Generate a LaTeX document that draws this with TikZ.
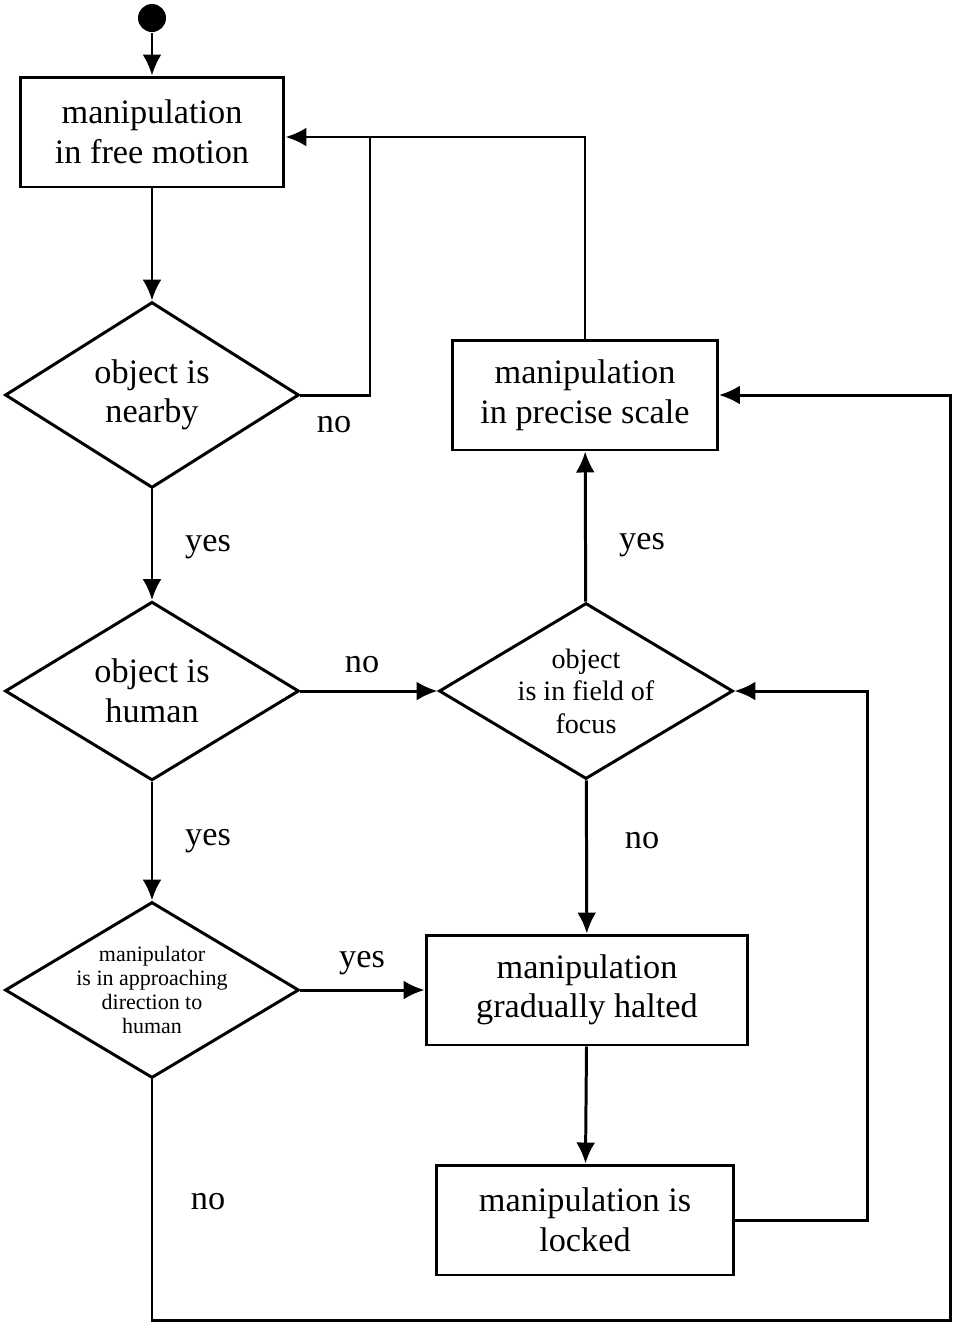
\documentclass[tikz,border=0pt]{standalone}
\usepackage{fontspec}
\setmainfont{Liberation Serif}
\usetikzlibrary{shapes.geometric,arrows.meta}

\begin{document}
\begin{tikzpicture}[x=0.02cm,y=-0.02cm,>={Latex[length=0.42cm,width=0.38cm]},line width=1.7pt,
    box/.style={draw,rectangle,align=center,minimum height=2.2cm,font=\fontsize{19.5}{22.5}\selectfont},
    test/.style={draw,diamond,align=center,inner sep=0pt,minimum width=5.88cm,minimum height=3.52cm},
    lbl/.style={font=\fontsize{19.5}{22.5}\selectfont}]
  \useasboundingbox (0,0) rectangle (956,1326);
  % states and tests
  \node[fill,circle,inner sep=0pt,minimum size=0.56cm] (start) at (152,18) {};
  \node[box,minimum width=5.28cm] (free) at (152,132) {manipulation\\in free motion};
  \node[test,font=\fontsize{19.5}{22.5}\selectfont] (near) at (152,395) {object is\\nearby};
  \node[box,minimum width=5.3cm] (precise) at (585,395) {manipulation\\in precise scale};
  \node[test,font=\fontsize{19.5}{22.5}\selectfont] (human) at (152,691) {object is\\human};
  \node[test,inner sep=-0.6cm,font=\fontsize{16}{18.5}\selectfont] (focus) at (586,691) {object\\is in field of\\focus};
  \node[test,inner sep=-0.9cm,font=\fontsize{12.5}{13.5}\selectfont] (dir) at (152,990) {manipulator\\is in approaching\\direction to\\human};
  \node[box,minimum width=6.44cm] (halt) at (587,990) {manipulation\\gradually halted};
  \node[box,minimum width=5.94cm] (lock) at (585,1220) {manipulation is\\locked};
  \coordinate (join) at (370,137);
  % connectors
  \draw[->] (start) -- (free);
  \draw[->] (free) -- (near);
  \draw[->] (near) -- (human);
  \draw[->] (human) -- (dir);
  \draw[->] (human) -- (focus);
  \draw[->] (focus) -- (precise);
  \draw[->] (focus) -- (halt);
  \draw[->] (dir) -- (halt);
  \draw[->] (halt) -- (lock);
  \draw (near.east) -| (join);
  \draw[->] (precise.north) |- (join) -- (free.east |- join);
  \draw[->] (dir.south) |- (950,1320) |- (precise.east);
  \draw[->] (lock.east) -| (867,691) -- (focus.east);
  % labels
  \node[lbl] (l1) at (334,425) {no};
  \node[lbl] (l2) at (208,547) {yes};
  \node[lbl] (l3) at (642,545) {yes};
  \node[lbl] (l4) at (362,665) {no};
  \node[lbl] (l5) at (208,841) {yes};
  \node[lbl] (l6) at (642,841) {no};
  \node[lbl] (l7) at (362,963) {yes};
  \node[lbl] (l8) at (208,1202) {no};
\end{tikzpicture}
\end{document}
